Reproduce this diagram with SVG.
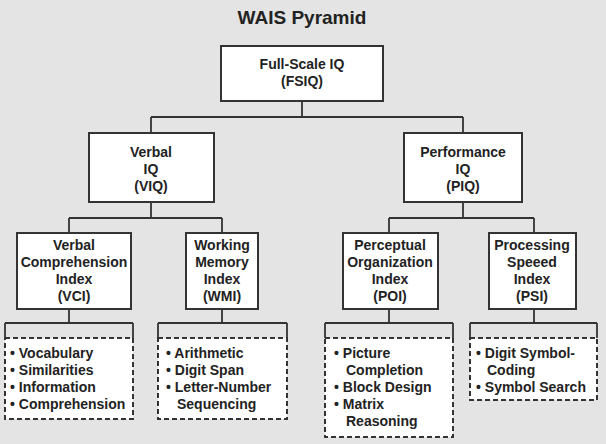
<svg xmlns="http://www.w3.org/2000/svg" width="606" height="444" viewBox="0 0 606 444">
<style>
text{font-family:"Liberation Sans",Arial,sans-serif;font-weight:bold;font-size:14px;fill:#222}
.c{text-anchor:middle}
.box{fill:#fff;stroke:#333;stroke-width:2}
.list{fill:#fff;stroke:#333;stroke-width:2;stroke-dasharray:5,3}
.ln{fill:none;stroke:#333;stroke-width:1.8}
</style>
<rect width="606" height="444" fill="#e4e4e4"/>
<text x="302" y="24" class="c" style="font-size:19px">WAIS Pyramid</text>
<g id="connectors">
<path class="ln" d="M302,101V117M151,117H463M151,117V133M463,117V133"/>
<path class="ln" d="M151,202V218M69,218H222M69,218V233M222,218V233"/>
<path class="ln" d="M463,202V218M389,218H534M389,218V233M534,218V233"/>
<path class="ln" d="M69,309V323M5,323H133M5,323V338M133,323V338"/>
<path class="ln" d="M222,309V323M158,323H287M158,323V338M287,323V338"/>
<path class="ln" d="M389,309V323M325,323H453M325,323V338M453,323V338"/>
<path class="ln" d="M534,309V323M470,323H597M470,323V338M597,323V338"/>
</g>
<g id="fsiq"><rect class="box" x="221" y="46" width="162" height="55"/><text class="c" x="302" y="69">Full-Scale IQ</text><text class="c" x="302" y="86">(FSIQ)</text></g>
<g id="viq"><rect class="box" x="89" y="133" width="125" height="69"/><text class="c" x="151" y="157">Verbal</text><text class="c" x="151" y="174">IQ</text><text class="c" x="151" y="191">(VIQ)</text></g>
<g id="piq"><rect class="box" x="404" y="133" width="118" height="69"/><text class="c" x="463" y="157">Performance</text><text class="c" x="463" y="174">IQ</text><text class="c" x="463" y="191">(PIQ)</text></g>
<g id="vci"><rect class="box" x="17" y="233" width="114" height="76"/><text class="c" x="74" y="250">Verbal</text><text class="c" x="74" y="267">Comprehension</text><text class="c" x="74" y="284">Index</text><text class="c" x="74" y="301">(VCI)</text></g>
<g id="wmi"><rect class="box" x="186" y="233" width="72" height="76"/><text class="c" x="222" y="250">Working</text><text class="c" x="222" y="267">Memory</text><text class="c" x="222" y="284">Index</text><text class="c" x="222" y="301">(WMI)</text></g>
<g id="poi"><rect class="box" x="343" y="233" width="95" height="76"/><text class="c" x="390" y="250">Perceptual</text><text class="c" x="390" y="267">Organization</text><text class="c" x="390" y="284">Index</text><text class="c" x="390" y="301">(POI)</text></g>
<g id="psi"><rect class="box" x="489" y="233" width="87" height="76"/><text class="c" x="532" y="250">Processing</text><text class="c" x="532" y="267">Speeed</text><text class="c" x="532" y="284">Index</text><text class="c" x="532" y="301">(PSI)</text></g>
<g id="vci-list"><rect class="list" x="5" y="338" width="128" height="81"/>
<text x="10" y="358">• Vocabulary</text><text x="10" y="375">• Similarities</text><text x="10" y="392">• Information</text><text x="10" y="409">• Comprehension</text></g>
<g id="wmi-list"><rect class="list" x="158" y="338" width="129" height="81"/>
<text x="166" y="358">• Arithmetic</text><text x="166" y="375">• Digit Span</text><text x="166" y="392">• Letter-Number</text><text x="177" y="409">Sequencing</text></g>
<g id="poi-list"><rect class="list" x="325" y="338" width="128" height="99"/>
<text x="334" y="358">• Picture</text><text x="346" y="375">Completion</text><text x="334" y="392">• Block Design</text><text x="334" y="409">• Matrix</text><text x="346" y="426">Reasoning</text></g>
<g id="psi-list"><rect class="list" x="470" y="338" width="127" height="62"/>
<text x="476" y="358">• Digit Symbol-</text><text x="487" y="375">Coding</text><text x="476" y="392">• Symbol Search</text></g>
</svg>
